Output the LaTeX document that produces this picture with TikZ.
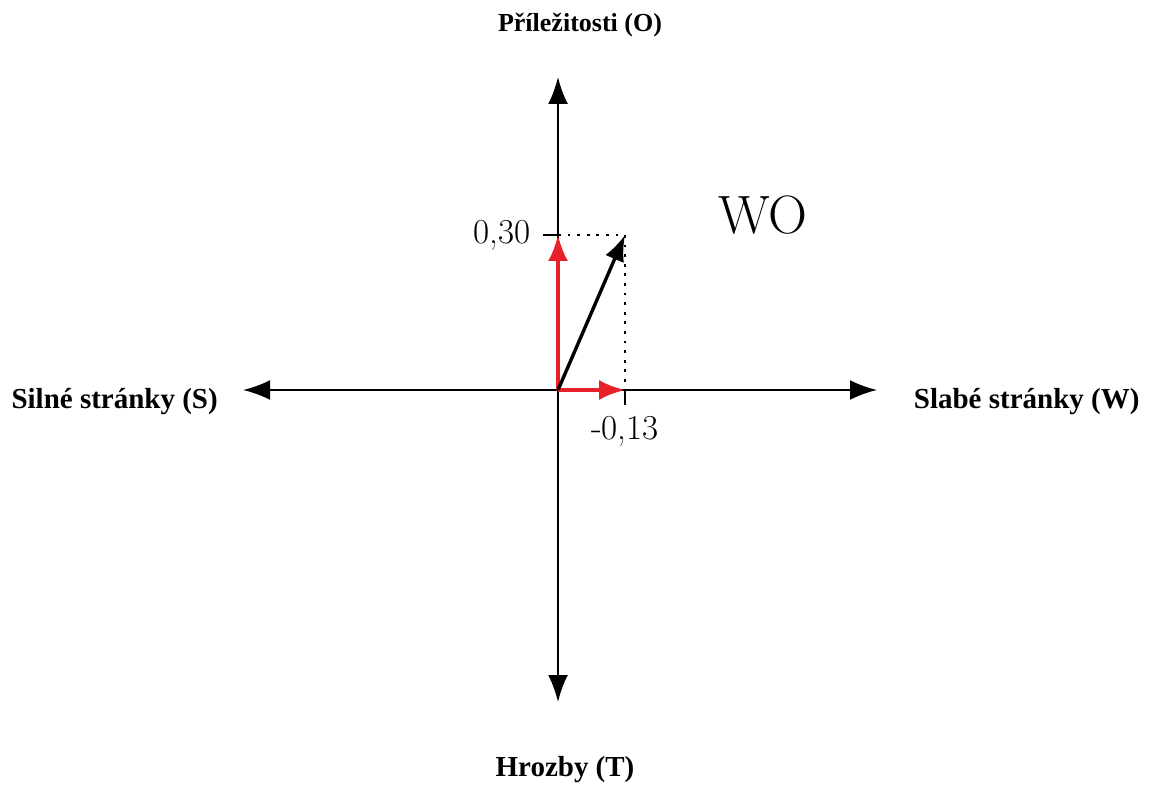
\documentclass[tikz,border=0pt]{standalone}
\usepackage{fontspec}
\newfontfamily\labelfont{Liberation Serif}
\usepackage{tikz}
\usetikzlibrary{arrows.meta}

\definecolor{vecred}{HTML}{E8202A}

\begin{document}
\begin{tikzpicture}[
  x=1pt, y=-1pt,
  axis/.style={line width=2.4pt, {Latex[length=27pt,width=20pt]}-{Latex[length=27pt,width=20pt]}},
  vec/.style={line width=3.4pt, -{Latex[length=26pt,width=20pt]}},
  proj/.style={line width=2.8pt, dash pattern=on 2.8pt off 6.8pt},
  tick/.style={line width=2pt},
  side/.style={font=\labelfont\bfseries\fontsize{29}{34}\selectfont},
  num/.style={font=\fontsize{35}{40}\selectfont}
]
\useasboundingbox (0,0) rectangle (1149,786);
% axes
\coordinate (o) at (558,390);
\coordinate (west) at (243,390);
\coordinate (east) at (877,390);
\coordinate (north) at (558,77);
\coordinate (south) at (558,702);
\draw[axis] (west) -- (east);
\draw[axis] (north) -- (south);
% quadrant labels
\node[side, font=\labelfont\bfseries\fontsize{26}{30}\selectfont] (opp) at (580,25) {Příležitosti (O)};
\node[side] (thr) at (565,770) {Hrozby (T)};
\node[side, anchor=west] (str) at (8,402) {Silné stránky (S)};
\node[side, anchor=east] (wea) at (1143,402) {Slabé stránky (W)};
% result
\coordinate (p) at (625,235);
\coordinate (py) at (558,235);
\coordinate (px) at (625,390);
\coordinate (ty) at (543,235);
\coordinate (tx) at (625,405);
\draw[proj] (py) -- (p);
\draw[proj] (p) -- (px);
\draw[tick] (ty) -- (py);
\draw[tick] (px) -- (tx);
\draw[vec, vecred] (o) -- (py);
\draw[vec, vecred] (o) -- (px);
\draw[vec] (o) -- (p);
\node[num, anchor=east] (vy) at (534,235) {0,30};
\node[num] (vx) at (625,431) {-0,13};
\node[font=\fontsize{54}{60}\selectfont] (wo) at (763,215) {WO};
\end{tikzpicture}
\end{document}
